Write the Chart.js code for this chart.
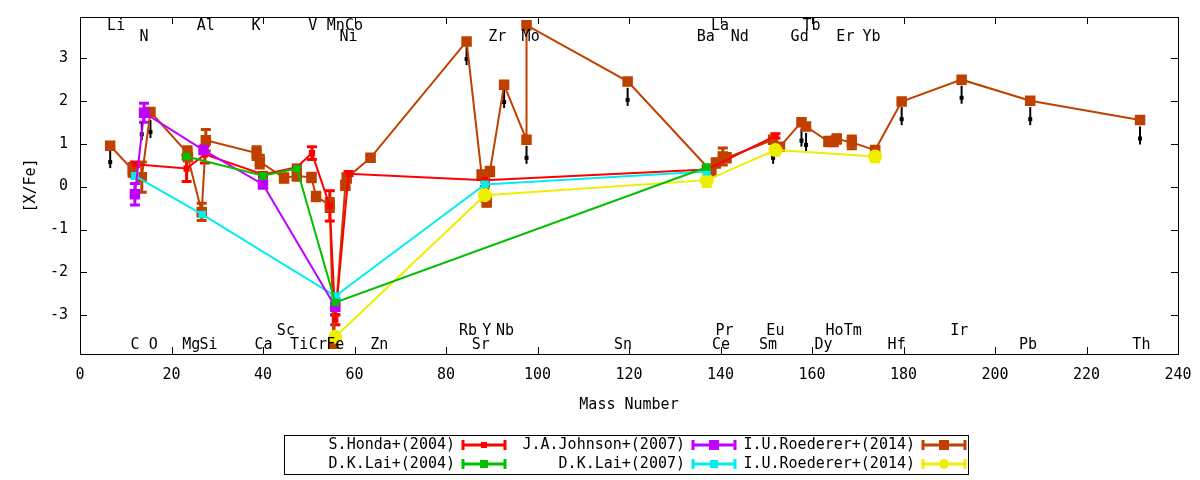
<!DOCTYPE html>
<html><head><meta charset="utf-8">
<script src="https://cdn.jsdelivr.net/npm/chart.js@4"></script>
<style>html,body{margin:0;padding:0;background:#fff}#c{display:block}</style>
</head><body>
<div style="width:1200px;height:480px"><canvas id="c"></canvas></div>
<script>
const xTicks=[0,20,40,60,80,100,120,140,160,180,200,220,240];
const yTicks=[-3,-2,-1,0,1,2,3];
// element labels: [name, mass, row] rows: 0 top1, 1 top2, 2 bottom1, 3 bottom2
const elemNames=["Li","Al","K","V","Mn","Co","La","Tb","N","Ni","Zr","Mo","Ba","Nd","Gd","Er","Yb","Sc","Rb","Y","Nb","Pr","Eu","Ho","Tm","Ir","C","O","Mg","Si","Ca","Ti","Cr","Fe","Zn","Sr","Sn","Ce","Sm","Dy","Hf","Pb","Th"];
const elemMass=[7.9,27.5,38.5,50.9,55.9,59.9,139.9,159.9,14,58.7,91.2,98.5,136.8,144.2,157.3,167.3,173,45,84.8,88.9,92.9,140.9,152,164.9,168.9,192.2,12,15.99,24.3,28.1,40.1,47.9,52,55.8,65.4,87.6,118.7,140.1,150.4,162.5,178.5,207.2,232];
const elemRow=[0,0,0,0,0,0,0,0,1,1,1,1,1,1,1,1,1,2,2,2,2,2,2,2,2,2,3,3,3,3,3,3,3,3,3,3,3,3,3,3,3,3,3];

const hondaX=[12,23.3,27.3,40,47.4,50.7,54.6,55.8,58.7,88.5,137,152];
const hondaY=[0.52,0.42,0.75,0.28,0.45,0.78,-0.45,-3.1,0.3,0.15,0.4,1.18];
const hondaE=[0.05,0.3,0.2,0.05,0.05,0.15,0.35,0.12,0.05,0.15,0.05,0.05];
const lai04X=[23.3,40,47.4,55.8,137];
const lai04Y=[0.7,0.25,0.42,-2.7,0.45];
const lai04E=[0.05,0.05,0.05,0.05,0.05];
const johnsonX=[12,14,27,40,55.8];
const johnsonY=[-0.18,1.72,0.85,0.05,-2.8];
const johnsonE=[0.25,0.22,0,0.05,0.2];
const lai07X=[12,26.7,55.8,88.5,137];
const lai07Y=[0.25,-0.65,-2.55,0.05,0.35];
const lai07E=[0.05,0.05,0.05,0.05,0.05];
const roedYX=[55.8,88.5,137,152,173.8];
const roedYY=[-3.5,-0.2,0.15,0.85,0.7];
const roedYE=[0.05,0.15,0.15,0.12,0.12];
const roedX=[6.6,11.5,13.5,15.4,23.5,23.6,26.6,27.5,38.6,39.3,44.6,47.4,50.6,51.6,54.6,55.4,58,58.3,63.5,84.5,87.8,88.9,89.6,92.7,97.6,97.6,119.7,138,139,140.5,141.3,151.5,153,157.7,158.7,163.6,164.7,165.4,168.7,173.8,179.6,192.7,207.7,231.7];
const roedY=[0.95,0.39,0.22,1.74,0.78,0.68,-0.59,1.08,0.78,0.58,0.2,0.25,0.21,-0.23,-0.43,-3.65,0.03,0.2,0.67,3.38,0.27,-0.36,0.35,2.37,1.09,3.76,2.45,0.35,0.55,0.7,0.67,1.09,0.93,1.5,1.4,1.05,1.05,1.11,1.03,0.85,1.98,2.49,2.0,1.55];
const roedE=[0,0.15,0.35,0,0.15,0,0.2,0.25,0.15,0.15,0.1,0.1,0.1,0.1,0.15,0.1,0.1,0.1,0.05,0,0.1,0.1,0.1,0,0,0,0,0.1,0.1,0.2,0.1,0,0,0,0,0.1,0.1,0.1,0.15,0.05,0,0,0,0];
const limX=[6.6,13.5,15.4,84.5,92.7,97.6,119.7,151.5,157.7,158.7,179.6,192.7,207.7,231.7];
const limY=[0.85,1.5,1.55,3.25,2.25,0.95,2.3,0.95,1.35,1.25,1.85,2.35,1.85,1.4];

const FONT='"DejaVu Sans Mono", monospace';
const pts=(xs,ys)=>xs.map((x,i)=>({x,y:ys[i]}));
const series=[
 {label:'S.Honda+(2004)',x:hondaX,y:hondaY,e:hondaE,color:'#ff0000',style:'rect',r:3},
 {label:'D.K.Lai+(2004)',x:lai04X,y:lai04Y,e:lai04E,color:'#00c000',style:'rect',r:4},
 {label:'J.A.Johnson+(2007)',x:johnsonX,y:johnsonY,e:johnsonE,color:'#c000ff',style:'rect',r:6},
 {label:'D.K.Lai+(2007)',x:lai07X,y:lai07Y,e:lai07E,color:'#00eeee',style:'rect',r:4},
 {label:'I.U.Roederer+(2014)',x:roedX,y:roedY,e:roedE,color:'#c04000',style:'rect',r:6},
 {label:'I.U.Roederer+(2014)',x:roedYX,y:roedYY,e:roedYE,color:'#eeee00',style:'circle',r:6},
];
const drawOrder=[1,2,3,0,5,4];
const datasets=drawOrder.map(i=>{const s=series[i];return {label:s.label,data:pts(s.x,s.y),err:s.e,borderColor:s.color,backgroundColor:s.color,
 pointStyle:s.style,pointRadius:s.r,pointHoverRadius:s.r,borderWidth:2,showLine:true,tension:0,order:0};});

const deco={id:'deco',
 beforeDatasetsDraw(ch){const {ctx,chartArea:a,scales:{x,y}}=ch;ctx.save();
  // error bars
  ch.data.datasets.forEach(ds=>{ctx.strokeStyle=ds.borderColor;ctx.lineWidth=3;
   ds.data.forEach((p,i)=>{const e=ds.err[i];if(!e)return;const px=x.getPixelForValue(p.x);
    const y1=y.getPixelForValue(p.y-e),y2=y.getPixelForValue(p.y+e);
    ctx.beginPath();ctx.moveTo(px,y1);ctx.lineTo(px,y2);ctx.moveTo(px-5,y1);ctx.lineTo(px+5,y1);ctx.moveTo(px-5,y2);ctx.lineTo(px+5,y2);ctx.stroke();});});
  // upper limit marks
  ctx.strokeStyle='#000';ctx.fillStyle='#000';ctx.lineWidth=2;
  limX.forEach((lx,i)=>{const px=x.getPixelForValue(lx),t=y.getPixelForValue(limY[i]),b=y.getPixelForValue(limY[i]-0.42);
   ctx.beginPath();ctx.moveTo(px,t);ctx.lineTo(px,b);ctx.stroke();ctx.fillRect(px-2,b-8,4,4);});
  ctx.restore();},
 afterDraw(ch){const {ctx,chartArea:a,scales:{x,y}}=ch;ctx.save();
  ctx.strokeStyle='#000';ctx.lineWidth=1;ctx.strokeRect(a.left+0.5,a.top+0.5,a.right-a.left,a.bottom-a.top);
  ctx.font='15px '+FONT;ctx.fillStyle='#000';
  ctx.beginPath();
  xTicks.forEach(v=>{const px=Math.round(x.getPixelForValue(v))+0.5;ctx.moveTo(px,a.bottom);ctx.lineTo(px,a.bottom-7);ctx.moveTo(px,a.top);ctx.lineTo(px,a.top+7);});
  yTicks.forEach(v=>{const py=Math.round(y.getPixelForValue(v))+0.5;ctx.moveTo(a.left,py);ctx.lineTo(a.left+7,py);ctx.moveTo(a.right,py);ctx.lineTo(a.right-7,py);});
  ctx.stroke();
  ctx.textAlign='center';ctx.textBaseline='middle';
  xTicks.forEach(v=>ctx.fillText(String(v),x.getPixelForValue(v),a.bottom+21));
  ctx.textAlign='right';
  yTicks.forEach(v=>ctx.fillText(String(v),a.left-12,y.getPixelForValue(v)));
  ctx.textAlign='center';ctx.fillText('Mass Number',(a.left+a.right)/2,405);
  ctx.save();ctx.translate(31,(a.top+a.bottom)/2);ctx.rotate(-Math.PI/2);ctx.fillText('[X/Fe]',0,0);ctx.restore();
  const rowPx=[26,37,331,345];
  elemNames.forEach((n,i)=>ctx.fillText(n,x.getPixelForValue(elemMass[i]),rowPx[elemRow[i]]));
  // legend
  ctx.strokeStyle='#000';ctx.lineWidth=1;ctx.strokeRect(284.5,435.5,684,39);
  const pos=[[455,445],[455,464],[685,445],[685,464],[915,445],[915,464]];
  const lorder=[0,1,2,3,4,5];
  lorder.forEach((si,k)=>{const s=series[si],[tx,ty]=pos[k];ctx.fillStyle='#000';ctx.textAlign='right';ctx.fillText(s.label,tx,ty);
   const x1=tx+8,x2=tx+50;ctx.strokeStyle=s.color;ctx.lineWidth=3;ctx.beginPath();ctx.moveTo(x1,ty);ctx.lineTo(x2,ty);
   ctx.moveTo(x1,ty-5);ctx.lineTo(x1,ty+5);ctx.moveTo(x2,ty-5);ctx.lineTo(x2,ty+5);ctx.stroke();
   ctx.fillStyle=s.color;const m=(x1+x2)/2,r=Math.min(s.r,5);
   if(s.style==='circle'){ctx.beginPath();ctx.arc(m,ty,r,0,Math.PI*2);ctx.fill();}else ctx.fillRect(m-r,ty-r,2*r,2*r);});
  ctx.restore();}
};
new Chart(document.getElementById('c'),{type:'scatter',data:{datasets},plugins:[deco],
 options:{responsive:true,maintainAspectRatio:false,animation:false,
  layout:{padding:{left:80,right:22,top:17,bottom:126}},
  plugins:{legend:{display:false},tooltip:{enabled:false}},
  scales:{x:{type:'linear',min:0,max:240,display:false},y:{type:'linear',min:-3.9,max:3.95,display:false}}}});
</script></body></html>
